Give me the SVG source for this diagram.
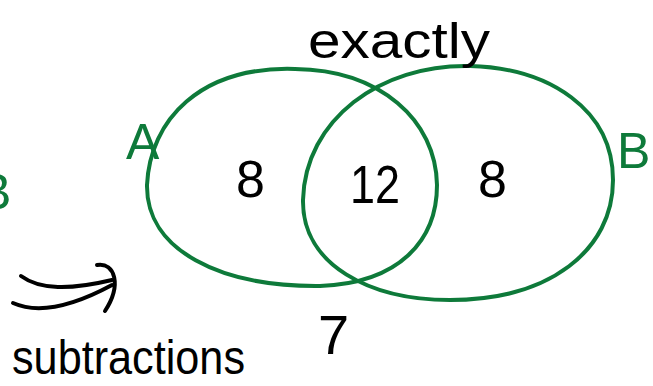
<svg xmlns="http://www.w3.org/2000/svg" width="653" height="386" viewBox="0 0 653 386">
<style>
.ring{fill:none;stroke:#0e7a3a;stroke-width:4;stroke-linecap:round}
.g{fill:#0e7a3a;font-family:"Liberation Sans",sans-serif}
.k{fill:#000;font-family:"Liberation Sans",sans-serif}
.ink{fill:none;stroke:#000;stroke-width:4;stroke-linecap:round;stroke-linejoin:round}
</style>
<rect width="653" height="386" fill="#fff"/>
<g id="setA">
<path class="ring" d="M295,69 C200,66 150,120 147,185 C146,250 220,287 320,286 C400,283 437,240 437,185 C436,120 380,70 295,69 Z"/>
<text class="g" x="126" y="159" font-size="50">A</text>
</g>
<g id="setB">
<path class="ring" d="M470,66 C380,64 305,120 303,200 C302,265 370,300 450,300 C550,300 613,250 613,180 C613,110 550,68 470,66 Z"/>
<text class="g" x="617" y="168" font-size="50">B</text>
</g>
<g id="labels">
<text class="k" x="308" y="58" font-size="50" textLength="182" lengthAdjust="spacingAndGlyphs">exactly</text>
<text class="k" x="236" y="197" font-size="52">8</text>
<text class="k" x="350" y="203" font-size="54" textLength="50" lengthAdjust="spacingAndGlyphs">12</text>
<text class="k" x="478" y="197" font-size="52">8</text>
<text class="k" x="318" y="354" font-size="56">7</text>
<text class="g" x="-22" y="209" font-size="50">B</text>
<text class="k" x="12" y="374" font-size="48" textLength="233" lengthAdjust="spacingAndGlyphs">subtractions</text>
</g>
<g id="connectors">
<path class="ink" d="M21,276 C40,290 70,290 112,280"/>
<path class="ink" d="M13,303 C40,315 75,305 112,285"/>
<path class="ink" d="M97,265 C115,262 122,285 105,311"/>
</g>
</svg>
